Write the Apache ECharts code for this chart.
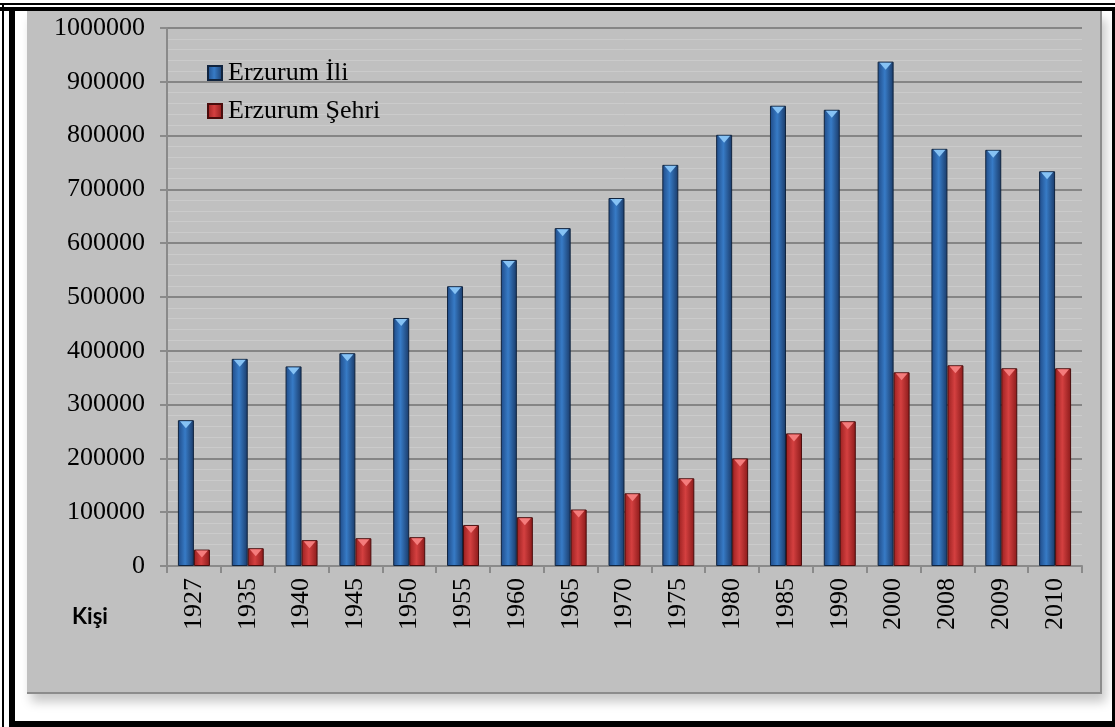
<!DOCTYPE html>
<html>
<head>
<meta charset="utf-8">
<script src="https://cdn.jsdelivr.net/npm/echarts@6/dist/echarts.min.js"></script>
<style>
  html, body { margin: 0; padding: 0; background: #fff; }
  #wrap { position: relative; width: 1115px; height: 727px; overflow: hidden; background: #fff; }
  .blk { position: absolute; background: #000; }
  #panel { position: absolute; left: 27px; top: 11px; width: 1073px; height: 681px;
           background: #c0c0c0; border-right: 2px solid #8c8c8c; border-bottom: 2px solid #8c8c8c;
           box-shadow: 4px 8px 10px rgba(0,0,0,0.22); }
  #chart { position: absolute; left: 0; top: 0; width: 1115px; height: 727px; }
</style>
</head>
<body>
<div id="wrap">
  <div class="blk" style="left:0;top:3px;width:1115px;height:2px;"></div>
  <div class="blk" style="left:2px;top:3px;width:2px;height:724px;"></div>
  <div class="blk" style="left:0;top:7px;width:1115px;height:4px;"></div>
  <div class="blk" style="left:9px;top:7px;width:6px;height:720px;"></div>
  <div class="blk" style="left:1112px;top:7px;width:3px;height:720px;"></div>
  <div class="blk" style="left:9px;top:721px;width:1106px;height:6px;"></div>
  <div id="panel"></div>
  <div id="chart"></div>
</div>
<script>
const years = ['1927','1935','1940','1945','1950','1955','1960','1965','1970','1975','1980','1985','1990','2000','2008','2009','2010'];
const erzurumIli = [271000, 385000, 371000, 395500, 461000, 520000, 569000, 628000, 684000, 745600, 801500, 855500, 848000, 937500, 775400, 773500, 733700];
const erzurumSehri = [30500, 33000, 48000, 51600, 53500, 76000, 90700, 105000, 135000, 163000, 200000, 246500, 269000, 360000, 373000, 367500, 367500];
const yTicks = { min: 0, max: 1000000, interval: 100000 };
const seriesNames = ['Erzurum İli', 'Erzurum Şehri'];
const yAxisName = 'Kişi';

const chart = echarts.init(document.getElementById('chart'), null, { renderer: 'canvas' });

function hGrad(edge, mid, edge2) {
  return new echarts.graphic.LinearGradient(0, 0, 1, 0, [
    { offset: 0, color: edge },
    { offset: 0.45, color: mid },
    { offset: 1, color: edge2 }
  ]);
}

const BW = 16;
const option = {
  backgroundColor: 'transparent',
  animation: false,
  textStyle: { fontFamily: 'Liberation Serif' },
  grid: { left: 167, right: 33, top: 28, bottom: 161, containLabel: false },
  legend: {
    data: seriesNames,
    orient: 'vertical',
    left: 202,
    top: 55,
    itemWidth: 14,
    itemHeight: 14,
    itemGap: 12,
    icon: 'rect',
    textStyle: { fontFamily: 'Liberation Serif', fontSize: 26, color: '#000', padding: [0, 0, 0, 1] }
  },
  graphic: [{
    type: 'text',
    left: 72,
    top: 606,
    style: { text: yAxisName, font: 'bold 22px Lato', fill: '#000' }
  }],
  xAxis: [{
    type: 'category',
    data: years,
    axisLine: { lineStyle: { color: '#8a8a8a', width: 2 } },
    axisTick: { show: true, length: 7, lineStyle: { color: '#8a8a8a', width: 2 } },
    axisLabel: { rotate: 90, margin: 12, fontSize: 26, color: '#000', fontFamily: 'Liberation Serif' }
  }, {
    type: 'category',
    data: years,
    show: false
  }],
  yAxis: {
    type: 'value',
    min: yTicks.min, max: yTicks.max, interval: yTicks.interval,
    axisLine: { show: true, lineStyle: { color: '#8a8a8a', width: 2 } },
    axisTick: { show: true, length: 7, lineStyle: { color: '#8a8a8a', width: 2 } },
    axisLabel: { margin: 22, fontSize: 26, color: '#000', fontFamily: 'Liberation Serif',
                 formatter: function (v) { return String(v); } },
    splitLine: { show: true, lineStyle: { color: '#858585', width: 2 } },
    minorTick: { show: false, splitNumber: 5 },
    minorSplitLine: { show: true, lineStyle: { color: '#cbcbcb', width: 1 } }
  },
  series: [{
    name: seriesNames[0],
    type: 'bar',
    data: erzurumIli,
    barWidth: BW,
    barGap: '0%',
    itemStyle: { color: hGrad('#1f4a86', '#377bc6', '#1a3a68'), borderColor: '#10243f', borderWidth: 1 }
  }, {
    name: seriesNames[1],
    type: 'bar',
    data: erzurumSehri,
    barWidth: BW,
    barGap: '0%',
    itemStyle: { color: hGrad('#9a2020', '#d44040', '#8a1a1a'), borderColor: '#4a0c0c', borderWidth: 1 }
  }, {
    name: 'capIli',
    type: 'pictorialBar',
    xAxisIndex: 1,
    data: erzurumIli,
    barWidth: BW,
    barGap: '0%',
    symbol: 'triangle',
    symbolRotate: 180,
    symbolSize: [12, 7],
    symbolPosition: 'end',
    symbolOffset: [0, 1],
    itemStyle: { color: '#86c2f4' },
    z: 5
  }, {
    name: 'capSehri',
    type: 'pictorialBar',
    xAxisIndex: 1,
    data: erzurumSehri,
    barWidth: BW,
    barGap: '0%',
    symbol: 'triangle',
    symbolRotate: 180,
    symbolSize: [12, 7],
    symbolPosition: 'end',
    symbolOffset: [0, 1],
    itemStyle: { color: '#f47c7c' },
    z: 5
  }]
};
chart.setOption(option);
</script>
</body>
</html>
